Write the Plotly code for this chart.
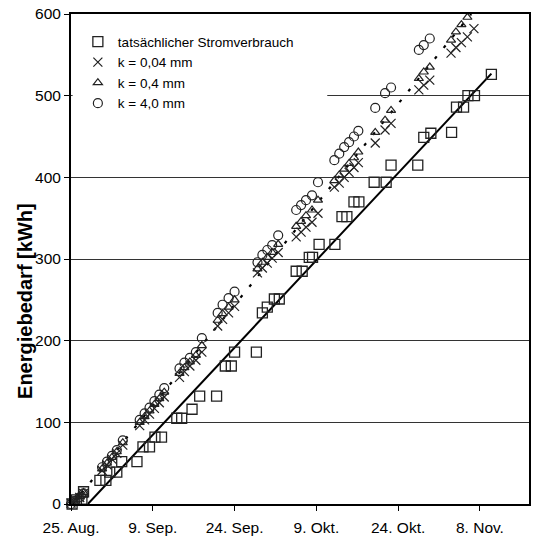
import plotly.graph_objects as go

# ---- data (x = days after 25 Aug) ----
tick_days = [0, 15, 30, 45, 60, 75]
tick_text = ["25. Aug.", "9. Sep.", "24. Sep.", "9. Okt.", "24. Okt.", "8. Nov."]

sq_day = [0.2, 1.0, 2.0, 2.3, 5.3, 6.4, 7.1, 8.4, 9.3, 12.1, 13.2, 14.4, 15.4, 16.6,
          19.4, 20.3, 22.2, 23.6, 26.7, 28.3, 29.4, 30.0, 34.0, 35.1, 36.0, 37.3, 38.2,
          41.3, 42.4, 43.7, 44.3, 45.5, 48.4, 49.7, 50.6, 51.9, 52.8, 55.6, 57.8, 58.7,
          63.6, 64.7, 66.0, 69.8, 70.7, 72.0, 72.8, 74.0, 77.1]
sq_val = [0, 5, 6, 15, 29, 29, 39, 39, 52, 52, 70, 70, 82, 82,
          105, 105, 116, 132, 132, 169, 169, 186, 186, 234, 241, 251, 251,
          285, 285, 302, 302, 318, 318, 352, 352, 370, 370, 394, 394, 415,
          415, 449, 454, 455, 486, 486, 500, 500, 526]

sim_day = [0.0, 0.8, 1.6, 2.3, 5.7, 6.6, 7.5, 8.4, 9.5, 12.6, 13.5, 14.4, 15.3, 16.2, 17.1,
           19.9, 20.8, 21.8, 22.9, 24.0, 26.9, 27.8, 28.9, 30.0, 34.2, 35.1, 36.0, 36.9, 38.0,
           41.3, 42.2, 43.1, 44.2, 45.3, 48.3, 49.2, 50.1, 51.0, 51.9, 52.7, 55.8, 57.6, 58.7,
           63.8, 64.7, 65.8, 69.7, 70.6, 71.6, 72.7, 73.9]
k004_val = [1, 5, 8, 13, 41, 48, 55, 62, 72, 96, 103, 110, 117, 124, 131,
            155, 162, 169, 176, 186, 218, 226, 234, 242, 283, 289, 295, 301, 308,
            327, 333, 339, 345, 356, 388, 393, 400, 406, 412, 418, 442, 458, 466,
            507, 513, 519, 552, 559, 565, 572, 582]
k04_val = [1, 5, 9, 14, 43, 50, 57, 64, 75, 100, 107, 114, 122, 129, 137,
           160, 167, 174, 182, 194, 225, 233, 241, 250, 288, 296, 302, 308, 318,
           340, 346, 353, 360, 372, 396, 403, 410, 417, 424, 431, 455, 470, 482,
           521, 529, 535, 568, 578, 587, 596, None]
k40_val = [0, 4, 8, 13, 45, 52, 59, 66, 78, 103, 111, 118, 126, 134, 142,
           166, 173, 179, 186, 203, 234, 244, 252, 260, 296, 305, 311, 317, 329,
           360, 366, 372, 378, 394, 421, 429, 437, 443, 450, 457, 485, 503, 510,
           556, 562, 570, None, None, None, None, None]

trend_act_day = [3.1, 77.1]
trend_act_val = [0, 527]
trend_sim_day = [0.3, 73.4]
trend_sim_val = [0, 600]

y_title = "Energiebedarf [kWh]"

ink = "#222222"
fig = go.Figure()
fig.add_trace(go.Scatter(x=trend_act_day, y=trend_act_val, mode="lines",
                         line=dict(color="black", width=2), showlegend=False, hoverinfo="skip"))
fig.add_trace(go.Scatter(x=trend_sim_day, y=trend_sim_val, mode="lines",
                         line=dict(color="black", width=2.2, dash="3px,11px"),
                         showlegend=False, hoverinfo="skip"))
fig.add_trace(go.Scatter(x=sq_day, y=sq_val, mode="markers", name="tatsächlicher Stromverbrauch",
                         cliponaxis=False,
                         marker=dict(symbol="square-open", size=10, color=ink, line=dict(width=1.3))))
fig.add_trace(go.Scatter(x=sim_day, y=k004_val, mode="markers", name="k = 0,04 mm",
                         cliponaxis=False,
                         marker=dict(symbol="x-thin-open", size=9, color=ink, line=dict(width=1.2, color=ink))))
fig.add_trace(go.Scatter(x=sim_day, y=k04_val, mode="markers", name="k = 0,4 mm",
                         cliponaxis=False,
                         marker=dict(symbol="triangle-up-open", size=8, color=ink, line=dict(width=1.2))))
fig.add_trace(go.Scatter(x=sim_day, y=k40_val, mode="markers", name="k = 4,0 mm",
                         cliponaxis=False,
                         marker=dict(symbol="circle-open", size=9, color=ink, line=dict(width=1.2))))

# white backing of the legend box (hides the 500 gridline behind the legend)
fig.add_shape(type="rect", xref="x", yref="y", x0=0.3, x1=47, y0=488, y1=512,
              fillcolor="white", line=dict(width=0), layer="between")

# y-axis title, placed a little below the axis centre as in the original
fig.add_annotation(text="<b>" + y_title + "</b>", textangle=-90,
                   xref="paper", yref="paper", x=-0.102, y=0.415,
                   xanchor="center", yanchor="middle", showarrow=False,
                   font=dict(size=20, color="black"))

fig.update_layout(
    width=534, height=541,
    margin=dict(l=71, r=3, t=14, b=37),
    paper_bgcolor="white", plot_bgcolor="white",
    font=dict(family="Liberation Sans, Arial, sans-serif", size=15.5, color="black"),
    showlegend=True,
    legend=dict(x=0.015, y=0.975, xanchor="left", yanchor="top",
                bgcolor="white", borderwidth=0, font=dict(size=13.5)),
    xaxis=dict(range=[0, 84], tickmode="array", tickvals=tick_days, ticktext=tick_text,
               showgrid=False, zeroline=False, showline=True, linecolor="black", linewidth=2,
               mirror=True, ticks="outside", ticklen=5, tickcolor="black",
               ticklabelstandoff=3),
    yaxis=dict(range=[0, 600], tickvals=[0, 100, 200, 300, 400, 500, 600],
               showgrid=True, gridcolor="#333333", gridwidth=1, zeroline=False,
               showline=True, linecolor="black", linewidth=2, mirror=True,
               ticks="outside", ticklen=5, tickcolor="black"),
)

fig.write_html("out.html")
